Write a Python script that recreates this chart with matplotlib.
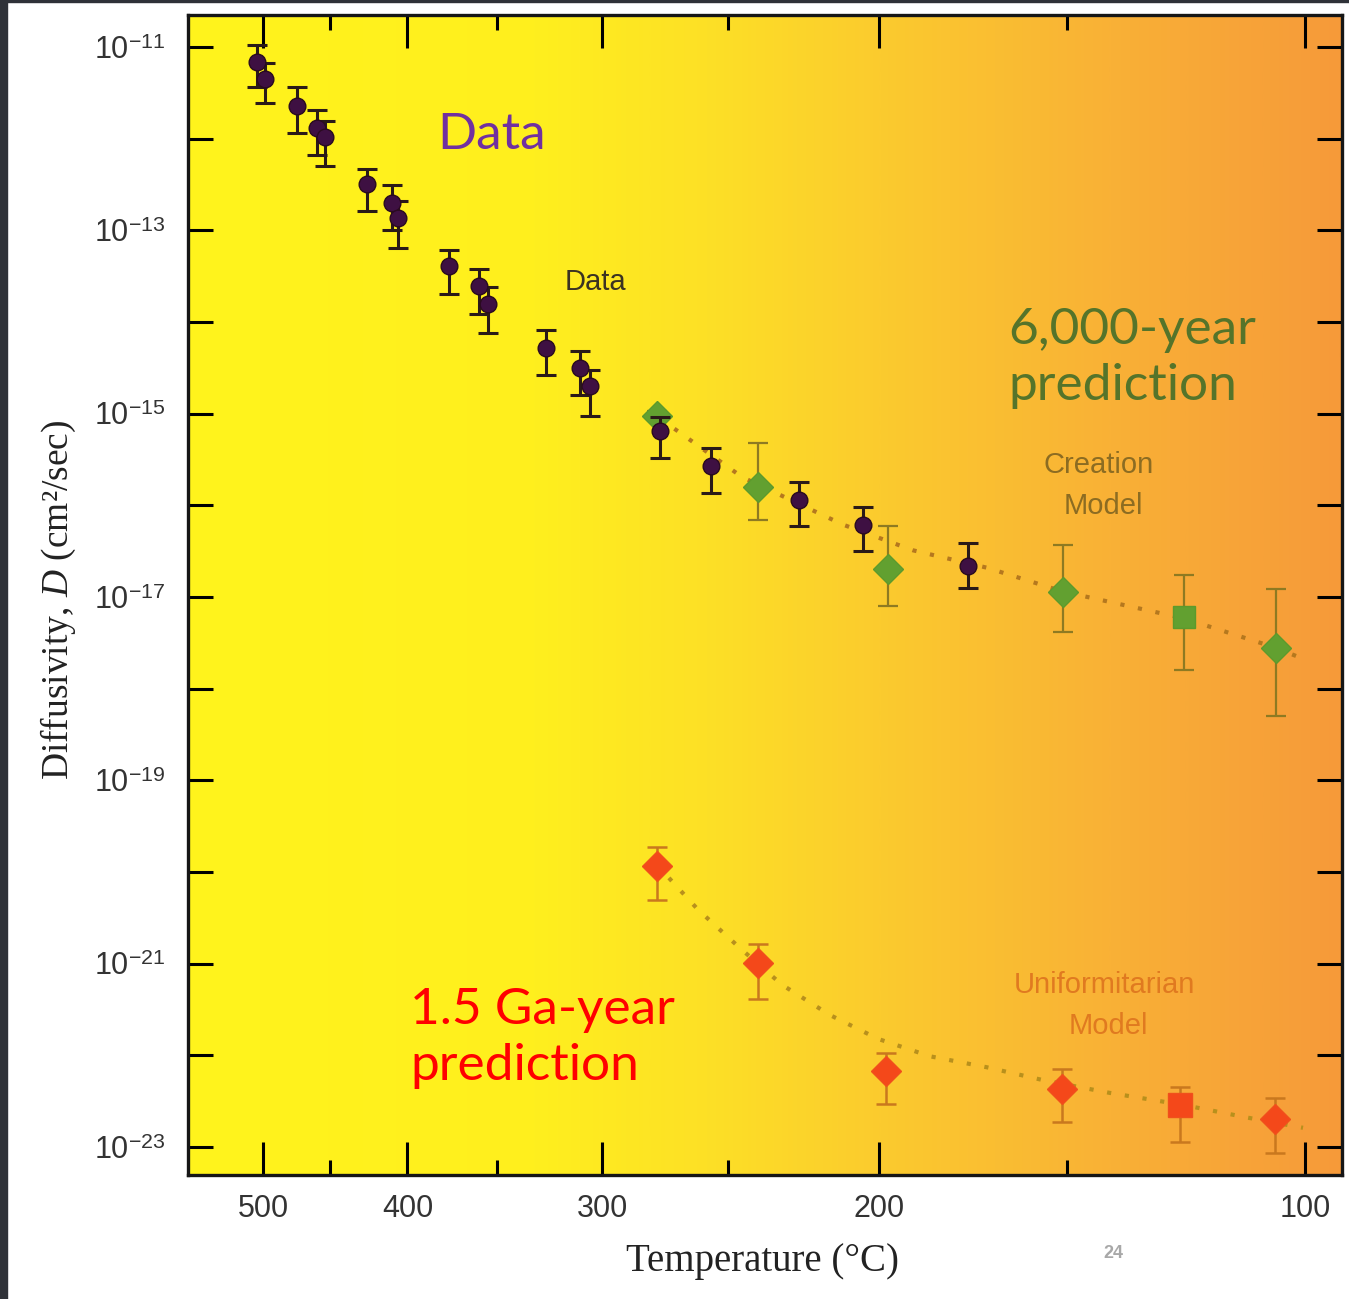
import numpy as np
import matplotlib.pyplot as plt
from matplotlib.colors import LinearSegmentedColormap
from matplotlib.patches import Rectangle

plt.rcParams['font.family'] = ['Liberation Sans', 'DejaVu Sans']
plt.rcParams['mathtext.fontset'] = 'custom'
plt.rcParams['mathtext.rm'] = 'Liberation Sans'
plt.rcParams['mathtext.it'] = 'Liberation Serif:italic'

# measured helium diffusivity (temperature in deg C, log10 D in cm2/s)
data_T = [504.8, 498.4, 473.9, 459.4, 453.6, 425.3, 409.4, 405.7, 375.9, 359.4,
          354.7, 325.7, 309.9, 305.4, 275.9, 256.1, 225.2, 205.0, 175.0]
data_logD = [-11.16, -11.35, -11.64, -11.88, -11.98, -12.49, -12.70, -12.86, -13.39, -13.61,
             -13.80, -14.28, -14.50, -14.70, -15.19, -15.57, -15.94, -16.21, -16.66]
data_up = [0.18, 0.18, 0.20, 0.19, 0.17, 0.16, 0.20, 0.18, 0.18, 0.19,
           0.18, 0.19, 0.18, 0.18, 0.15, 0.20, 0.19, 0.19, 0.25]
data_dn = [0.28, 0.26, 0.30, 0.30, 0.32, 0.30, 0.30, 0.33, 0.30, 0.30,
           0.32, 0.30, 0.30, 0.32, 0.29, 0.30, 0.29, 0.29, 0.24]

# creation model predictions (the square is kept apart)
cre_T = [277.1, 239.2, 197.5, 151.0, 105.5]
cre_logD = [-15.02, -15.80, -16.69, -16.94, -17.56]
cre_up = [0.05, 0.48, 0.46, 0.51, 0.65]
cre_dn = [0.05, 0.36, 0.41, 0.44, 0.74]
cre_sq_T = [123.9]
cre_sq_logD = [-17.22]
cre_sq_up = [0.46]
cre_sq_dn = [0.58]

# uniformitarian model predictions
uni_T = [277.1, 239.2, 198.0, 151.2, 105.6]
uni_logD = [-19.93, -20.99, -22.17, -22.37, -22.69]
uni_up = [0.20, 0.20, 0.20, 0.22, 0.22]
uni_dn = [0.38, 0.40, 0.36, 0.36, 0.38]
uni_sq_T = [124.8]
uni_sq_logD = [-22.54]
uni_sq_up = [0.20]
uni_sq_dn = [0.41]

# dotted model curves
cre_curve_T = [275.9, 244.8, 211.1, 190.2, 170.0, 151.0, 124.1, 105.7, 99.7]
cre_curve_logD = [-15.05, -15.69, -16.21, -16.49, -16.68, -16.94, -17.23, -17.55, -17.69]
uni_curve_T = [277.1, 261.0, 245.5, 230.9, 215.2, 200.4, 185.4, 170.0, 155.8, 140.0, 124.1, 110.9, 100.4]
uni_curve_logD = [-19.92, -20.41, -20.83, -21.23, -21.56, -21.82, -22.01, -22.13, -22.27, -22.41,
                  -22.54, -22.68, -22.79]

x_major = [500, 400, 300, 200, 100]
x_minor = [450, 350, 250, 150]
y_exps = list(range(-23, -10))


# Arrhenius axis: linear in -1000/T(K)
def fwd(T):
    return -1000.0 / (np.asarray(T, dtype=float) + 273.15)


def inv(u):
    return -1000.0 / np.asarray(u, dtype=float) - 273.15


def errs(logD, up, dn):
    logD = np.array(logD)
    D = 10 ** logD
    return D, [D - 10 ** (logD - np.array(dn)), 10 ** (logD + np.array(up)) - D]


W, H = 1349, 1299
fig = plt.figure(figsize=(W / 100, H / 100), dpi=100)
fig.patch.set_facecolor('white')
fig.add_artist(Rectangle((0, 0), 7 / W, 1, transform=fig.transFigure, color='#2f3238', zorder=0))
fig.add_artist(Rectangle((0, 1 - 2 / H), 1, 2 / H, transform=fig.transFigure, color='#2f3238', zorder=0))

pos = [188 / W, 1 - 1175 / H, (1342 - 188) / W, (1175 - 15) / H]
bg = fig.add_axes(pos, zorder=0)
cmap = LinearSegmentedColormap.from_list('bg', [
    (0.0, '#FFF41C'), (0.3, '#FFEF1E'), (0.45, '#FDE026'),
    (0.6, '#FBCB2E'), (0.8, '#F9B136'), (1.0, '#F69A3A')])
bg.imshow(np.linspace(0, 1, 512)[None, :], cmap=cmap, aspect='auto', extent=[0, 1, 0, 1])
bg.axis('off')

ax = fig.add_axes(pos, zorder=1)
ax.patch.set_alpha(0)
ax.set_xscale('function', functions=(fwd, inv))
ax.set_yscale('log')

# dotted model curves
ax.plot(cre_curve_T, 10 ** np.array(cre_curve_logD), color='#B5781E', lw=3,
        dashes=(1, 3.3), zorder=2)
ax.plot(uni_curve_T, 10 ** np.array(uni_curve_logD), color='#B8901C', lw=3,
        dashes=(1, 3.3), zorder=2)

# creation model
D, e = errs(cre_logD, cre_up, cre_dn)
ax.errorbar(cre_T, D, yerr=e, fmt='D', ms=15, mfc='#62A030', mec='#5C9A2C',
            ecolor='#8E7A22', elinewidth=1.6, capsize=7, capthick=1.6, zorder=3)
D, e = errs(cre_sq_logD, cre_sq_up, cre_sq_dn)
ax.errorbar(cre_sq_T, D, yerr=e, fmt='s', ms=16, mfc='#62A030', mec='#5C9A2C',
            ecolor='#8E7A22', elinewidth=1.6, capsize=7, capthick=1.6, zorder=3)

# uniformitarian model
D, e = errs(uni_logD, uni_up, uni_dn)
ax.errorbar(uni_T, D, yerr=e, fmt='D', ms=15, mfc='#F4481A', mec='#F0501C',
            ecolor='#C9781E', elinewidth=1.8, capsize=7, capthick=1.8, zorder=3)
D, e = errs(uni_sq_logD, uni_sq_up, uni_sq_dn)
ax.errorbar(uni_sq_T, D, yerr=e, fmt='s', ms=17, mfc='#F4481A', mec='#F0501C',
            ecolor='#C9781E', elinewidth=1.8, capsize=7, capthick=1.8, zorder=3)

# measured data
D, e = errs(data_logD, data_up, data_dn)
ax.errorbar(data_T, D, yerr=e, fmt='o', ms=12, mfc='#3E1042', mec='#2A0A20',
            ecolor='#2A1A18', elinewidth=2.2, capsize=7, capthick=2.2, zorder=4)

ax.set_xlim(564.6, 93.3)
ax.set_ylim(10 ** -23.305, 10 ** -10.65)

ax.set_xticks(x_major)
ax.set_xticklabels([str(t) for t in x_major])
ax.set_xticks(x_minor, minor=True)
ax.set_xticklabels([], minor=True)
ax.set_yticks([10.0 ** k for k in y_exps])
ax.set_yticklabels([r'$10^{%d}$' % k if k % 2 else '' for k in y_exps])
ax.yaxis.set_minor_locator(plt.NullLocator())

ax.tick_params(axis='x', which='major', direction='in', length=24, width=2.2,
               top=True, labelsize=22, labelcolor='#333333', pad=14)
ax.tick_params(axis='x', which='minor', direction='in', length=11, width=2.2, top=True)
ax.tick_params(axis='y', which='major', direction='in', length=18, width=2.2,
               right=True, labelsize=22, labelcolor='#333333', pad=16)
for s in ax.spines.values():
    s.set_linewidth(2.4)
    s.set_color('#161616')

fig.text(763 / W, 1 - 1262 / H, 'Temperature (°C)', ha='center', va='center',
         fontsize=28, family='Liberation Serif', color='#222222')
fig.text(58 / W, 1 - 600 / H, 'Diffusivity, $D$ (cm²/sec)', ha='center', va='center',
         rotation=90, fontsize=27, family='Liberation Serif', color='#222222')

big = dict(fontsize=37, family='Lato')
fig.text(437 / W, 1 - 135 / H, 'Data', ha='left', va='center', color='#7030A0', **big)
fig.text(1008 / W, 1 - 330 / H, '6,000-year', ha='left', va='center', color='#55742A', **big)
fig.text(1008 / W, 1 - 386 / H, 'prediction', ha='left', va='center', color='#55742A', **big)
fig.text(410 / W, 1 - 1010 / H, '1.5 Ga-year', ha='left', va='center', color='#FF0000', **big)
fig.text(410 / W, 1 - 1066 / H, 'prediction', ha='left', va='center', color='#FF0000', **big)

fig.text(595 / W, 1 - 282 / H, 'Data', ha='center', va='center', fontsize=21, color='#3B3322')
fig.text(1099 / W, 1 - 465 / H, 'Creation', ha='center', va='center', fontsize=21, color='#8C6C22')
fig.text(1103 / W, 1 - 506 / H, 'Model', ha='center', va='center', fontsize=21, color='#8C6C22')
fig.text(1104 / W, 1 - 985 / H, 'Uniformitarian', ha='center', va='center', fontsize=21, color='#E07A20')
fig.text(1108 / W, 1 - 1026 / H, 'Model', ha='center', va='center', fontsize=21, color='#E07A20')
fig.text(1113 / W, 1 - 1253 / H, '24', ha='center', va='center', fontsize=13,
         fontweight='bold', color='#A8A8A8')

fig.savefig('out.png', dpi=100)
